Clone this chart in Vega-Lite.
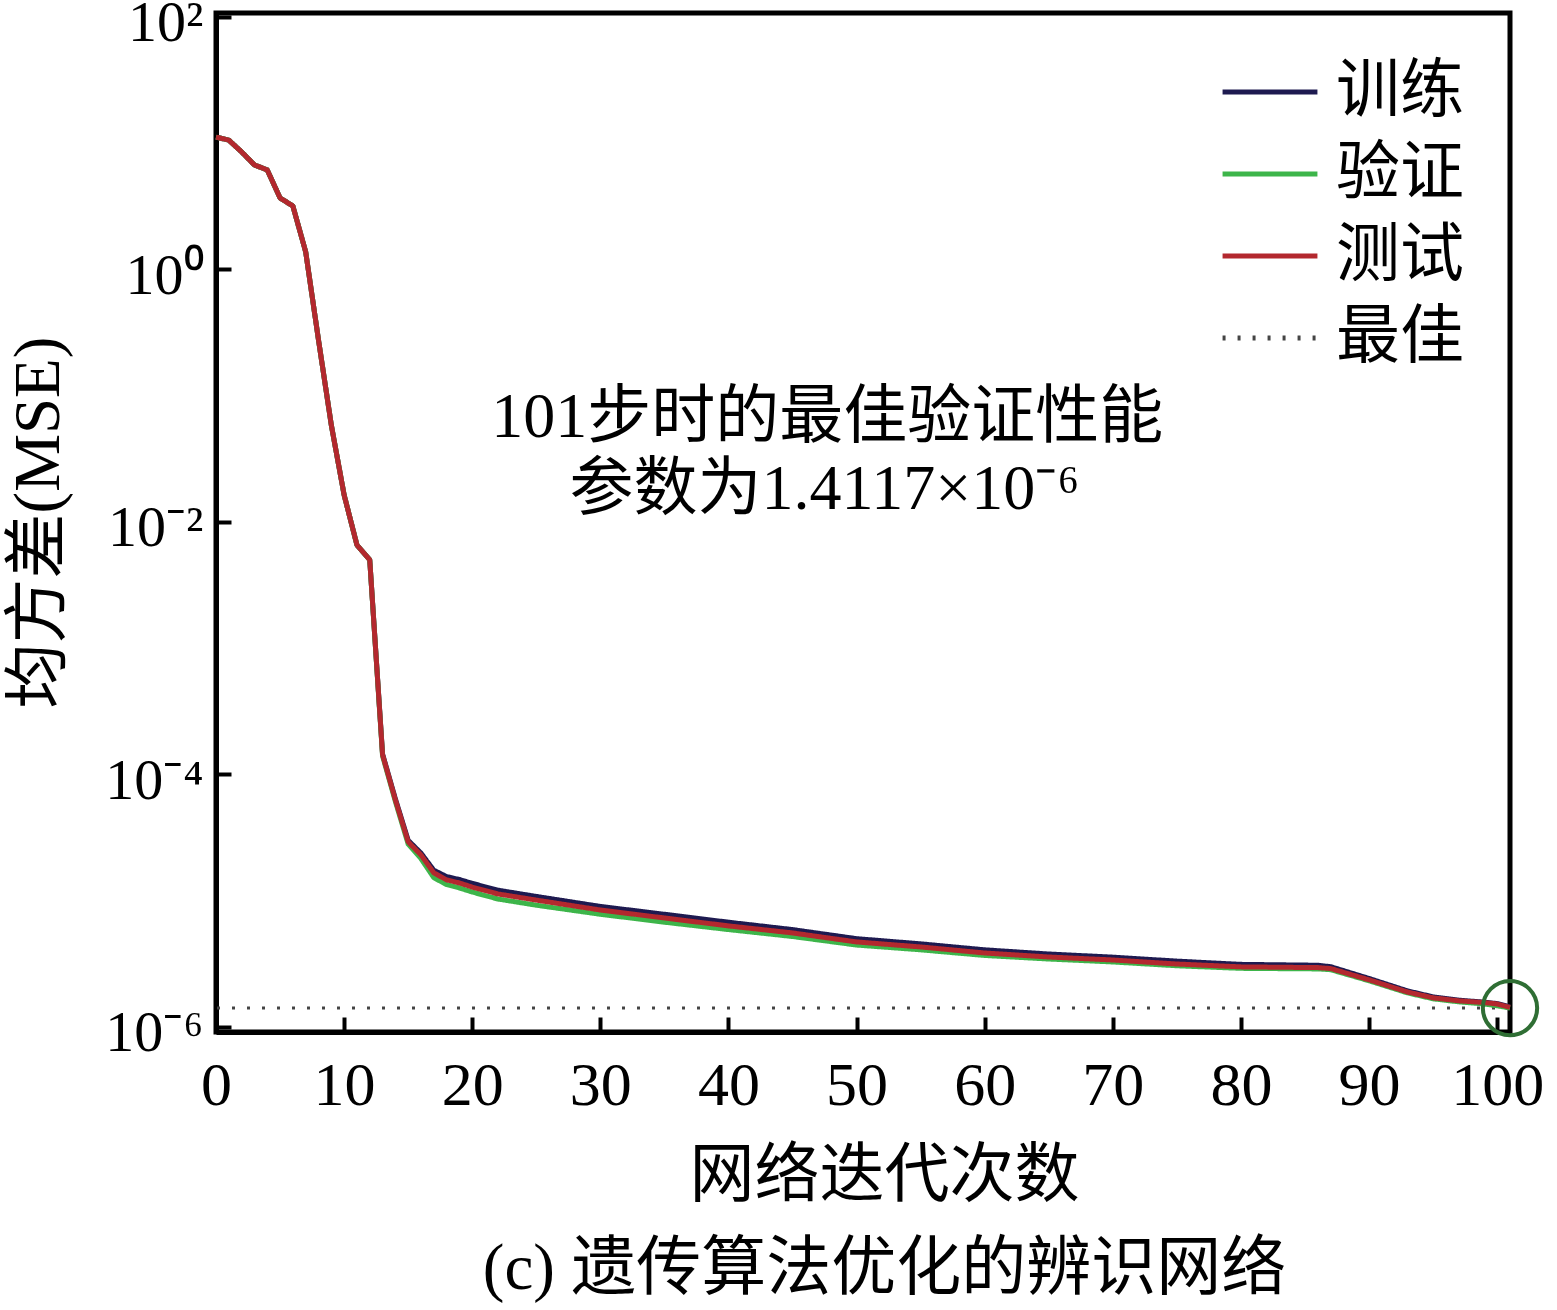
{
  "$schema": "https://vega.github.io/schema/vega-lite/v6.json",
  "width": 1294,
  "height": 1019,
  "autosize": "none",
  "padding": {"left": 216, "top": 13, "right": 47, "bottom": 278},
  "background": "white",
  "config": {
    "view": {"stroke": "black", "strokeWidth": 5},
    "font": "Liberation Serif, Noto Sans CJK SC",
    "axis": {
      "grid": false,
      "domainColor": "black",
      "domainWidth": 5,
      "tickColor": "black",
      "tickWidth": 4,
      "tickSize": -15,
      "labelColor": "black",
      "labelFont": "Liberation Serif",
      "labelFontSize": 62,
      "labelFlush": false,
      "titleColor": "black",
      "titleFont": "Liberation Serif, Noto Sans CJK SC",
      "titleFontSize": 65,
      "titleFontWeight": "normal"
    },
    "legend": {
      "orient": "none",
      "legendX": 1004,
      "legendY": 29,
      "symbolType": "stroke",
      "symbolSize": 9000,
      "symbolStrokeWidth": 5,
      "labelFont": "Liberation Serif, Noto Sans CJK SC",
      "labelFontSize": 64,
      "labelColor": "black",
      "labelOffset": 16,
      "rowPadding": -11,
      "title": null
    }
  },
  "datasets": {
    "perf": [
      {"x": 0, "y": 11.1, "s": "训练"}, {"x": 1, "y": 10.5, "s": "训练"}, {"x": 2, "y": 8.47, "s": "训练"},
      {"x": 3, "y": 6.68, "s": "训练"}, {"x": 4, "y": 6.1, "s": "训练"}, {"x": 5, "y": 3.66, "s": "训练"},
      {"x": 6, "y": 3.16, "s": "训练"}, {"x": 7, "y": 1.37, "s": "训练"}, {"x": 8, "y": 0.275, "s": "训练"},
      {"x": 9, "y": 0.0583, "s": "训练"}, {"x": 10, "y": 0.0163, "s": "训练"}, {"x": 11, "y": 0.00655, "s": "训练"},
      {"x": 12, "y": 0.00499, "s": "训练"}, {"x": 13, "y": 1.45e-4, "s": "训练"}, {"x": 14, "y": 6.4e-5, "s": "训练"},
      {"x": 15, "y": 3.0e-5, "s": "训练"}, {"x": 16, "y": 2.38e-5, "s": "训练"}, {"x": 17, "y": 1.74e-5, "s": "训练"},
      {"x": 18, "y": 1.55e-5, "s": "训练"}, {"x": 19, "y": 1.47e-5, "s": "训练"}, {"x": 20, "y": 1.37e-5, "s": "训练"},
      {"x": 22, "y": 1.21e-5, "s": "训练"}, {"x": 25, "y": 1.08e-5, "s": "训练"}, {"x": 30, "y": 9.0e-6, "s": "训练"},
      {"x": 35, "y": 7.8e-6, "s": "训练"}, {"x": 40, "y": 6.75e-6, "s": "训练"}, {"x": 45, "y": 5.9e-6, "s": "训练"},
      {"x": 50, "y": 5.0e-6, "s": "训练"}, {"x": 55, "y": 4.55e-6, "s": "训练"}, {"x": 60, "y": 4.08e-6, "s": "训练"},
      {"x": 65, "y": 3.78e-6, "s": "训练"}, {"x": 70, "y": 3.57e-6, "s": "训练"}, {"x": 75, "y": 3.32e-6, "s": "训练"},
      {"x": 80, "y": 3.13e-6, "s": "训练"}, {"x": 86, "y": 3.08e-6, "s": "训练"}, {"x": 87, "y": 3.0e-6, "s": "训练"},
      {"x": 90, "y": 2.42e-6, "s": "训练"}, {"x": 93, "y": 1.93e-6, "s": "训练"}, {"x": 95, "y": 1.73e-6, "s": "训练"},
      {"x": 97, "y": 1.63e-6, "s": "训练"}, {"x": 99, "y": 1.57e-6, "s": "训练"}, {"x": 100, "y": 1.53e-6, "s": "训练"},
      {"x": 101, "y": 1.44e-6, "s": "训练"},

      {"x": 0, "y": 11.1, "s": "验证"}, {"x": 1, "y": 10.5, "s": "验证"}, {"x": 2, "y": 8.47, "s": "验证"},
      {"x": 3, "y": 6.68, "s": "验证"}, {"x": 4, "y": 6.1, "s": "验证"}, {"x": 5, "y": 3.66, "s": "验证"},
      {"x": 6, "y": 3.16, "s": "验证"}, {"x": 7, "y": 1.37, "s": "验证"}, {"x": 8, "y": 0.275, "s": "验证"},
      {"x": 9, "y": 0.0583, "s": "验证"}, {"x": 10, "y": 0.0163, "s": "验证"}, {"x": 11, "y": 0.00655, "s": "验证"},
      {"x": 12, "y": 0.00499, "s": "验证"}, {"x": 13, "y": 1.40e-4, "s": "验证"}, {"x": 14, "y": 6.1e-5, "s": "验证"},
      {"x": 15, "y": 2.8e-5, "s": "验证"}, {"x": 16, "y": 2.15e-5, "s": "验证"}, {"x": 17, "y": 1.52e-5, "s": "验证"},
      {"x": 18, "y": 1.34e-5, "s": "验证"}, {"x": 19, "y": 1.26e-5, "s": "验证"}, {"x": 20, "y": 1.17e-5, "s": "验证"},
      {"x": 22, "y": 1.03e-5, "s": "验证"}, {"x": 25, "y": 9.2e-6, "s": "验证"}, {"x": 30, "y": 7.8e-6, "s": "验证"},
      {"x": 35, "y": 6.75e-6, "s": "验证"}, {"x": 40, "y": 5.9e-6, "s": "验证"}, {"x": 45, "y": 5.2e-6, "s": "验证"},
      {"x": 50, "y": 4.45e-6, "s": "验证"}, {"x": 55, "y": 4.08e-6, "s": "验证"}, {"x": 60, "y": 3.68e-6, "s": "验证"},
      {"x": 65, "y": 3.45e-6, "s": "验证"}, {"x": 70, "y": 3.27e-6, "s": "验证"}, {"x": 75, "y": 3.05e-6, "s": "验证"},
      {"x": 80, "y": 2.91e-6, "s": "验证"}, {"x": 86, "y": 2.88e-6, "s": "验证"}, {"x": 87, "y": 2.84e-6, "s": "验证"},
      {"x": 90, "y": 2.32e-6, "s": "验证"}, {"x": 93, "y": 1.86e-6, "s": "验证"}, {"x": 95, "y": 1.67e-6, "s": "验证"},
      {"x": 97, "y": 1.58e-6, "s": "验证"}, {"x": 99, "y": 1.52e-6, "s": "验证"}, {"x": 100, "y": 1.47e-6, "s": "验证"},
      {"x": 101, "y": 1.4117e-6, "s": "验证"},

      {"x": 0, "y": 11.1, "s": "测试"}, {"x": 1, "y": 10.5, "s": "测试"}, {"x": 2, "y": 8.47, "s": "测试"},
      {"x": 3, "y": 6.68, "s": "测试"}, {"x": 4, "y": 6.1, "s": "测试"}, {"x": 5, "y": 3.66, "s": "测试"},
      {"x": 6, "y": 3.16, "s": "测试"}, {"x": 7, "y": 1.37, "s": "测试"}, {"x": 8, "y": 0.275, "s": "测试"},
      {"x": 9, "y": 0.0583, "s": "测试"}, {"x": 10, "y": 0.0163, "s": "测试"}, {"x": 11, "y": 0.00655, "s": "测试"},
      {"x": 12, "y": 0.00499, "s": "测试"}, {"x": 13, "y": 1.43e-4, "s": "测试"}, {"x": 14, "y": 6.27e-5, "s": "测试"},
      {"x": 15, "y": 2.92e-5, "s": "测试"}, {"x": 16, "y": 2.30e-5, "s": "测试"}, {"x": 17, "y": 1.66e-5, "s": "测试"},
      {"x": 18, "y": 1.46e-5, "s": "测试"}, {"x": 19, "y": 1.38e-5, "s": "测试"}, {"x": 20, "y": 1.28e-5, "s": "测试"},
      {"x": 22, "y": 1.13e-5, "s": "测试"}, {"x": 25, "y": 1.01e-5, "s": "测试"}, {"x": 30, "y": 8.43e-6, "s": "测试"},
      {"x": 35, "y": 7.29e-6, "s": "测试"}, {"x": 40, "y": 6.31e-6, "s": "测试"}, {"x": 45, "y": 5.55e-6, "s": "测试"},
      {"x": 50, "y": 4.71e-6, "s": "测试"}, {"x": 55, "y": 4.30e-6, "s": "测试"}, {"x": 60, "y": 3.85e-6, "s": "测试"},
      {"x": 65, "y": 3.58e-6, "s": "测试"}, {"x": 70, "y": 3.39e-6, "s": "测试"}, {"x": 75, "y": 3.15e-6, "s": "测试"},
      {"x": 80, "y": 2.99e-6, "s": "测试"}, {"x": 86, "y": 2.95e-6, "s": "测试"}, {"x": 87, "y": 2.90e-6, "s": "测试"},
      {"x": 90, "y": 2.36e-6, "s": "测试"}, {"x": 93, "y": 1.89e-6, "s": "测试"}, {"x": 95, "y": 1.70e-6, "s": "测试"},
      {"x": 97, "y": 1.61e-6, "s": "测试"}, {"x": 99, "y": 1.56e-6, "s": "测试"}, {"x": 100, "y": 1.52e-6, "s": "测试"},
      {"x": 101, "y": 1.43e-6, "s": "测试"}
    ]
  },
  "encoding": {
    "x": {
      "type": "quantitative",
      "scale": {"domain": [0, 101], "nice": false, "zero": false},
      "axis": {
        "values": [0, 10, 20, 30, 40, 50, 60, 70, 80, 90, 100],
        "labelPadding": 38,
        "title": ["网络迭代次数", "(c) 遗传算法优化的辨识网络"],
        "titleX": 668,
        "titleY": 112,
        "titleAlign": "center",
        "titleBaseline": "top",
        "titleLineHeight": 93
      }
    },
    "y": {
      "type": "quantitative",
      "scale": {"type": "log", "domain": [9.12e-7, 106.6], "nice": false},
      "axis": {
        "values": [100, 1, 0.01, 0.0001, 0.000001],
        "labelPadding": 28,
        "labelFontSize": 58,
        "labelOffset": 7,
        "labelExpr": "datum.value > 10 ? '10²' : datum.value > 0.1 ? '10⁰' : datum.value > 0.001 ? '10⁻²' : datum.value > 0.00001 ? '10⁻⁴' : '10⁻⁶'",
        "title": "均方差(MSE)",
        "titleAngle": -90,
        "titleX": -178,
        "titleY": 509,
        "titleAlign": "center",
        "titleBaseline": "middle"
      }
    }
  },
  "layer": [
    {
      "data": {"values": [{"y": 1.4117e-6, "s": "最佳"}]},
      "mark": {"type": "rule", "strokeWidth": 3},
      "encoding": {
        "y": {"field": "y"},
        "color": {"field": "s", "type": "nominal"},
        "strokeDash": {"field": "s", "type": "nominal"}
      }
    },
    {
      "data": {"name": "perf"},
      "mark": {"type": "line", "strokeWidth": 5, "strokeJoin": "round"},
      "encoding": {
        "x": {"field": "x"},
        "y": {"field": "y"},
        "color": {
          "field": "s",
          "type": "nominal",
          "scale": {
            "domain": ["训练", "验证", "测试", "最佳"],
            "range": ["#1e1a50", "#3db54a", "#b3282e", "#444444"]
          }
        },
        "strokeDash": {
          "field": "s",
          "type": "nominal",
          "scale": {
            "domain": ["训练", "验证", "测试", "最佳"],
            "range": [[1, 0], [1, 0], [1, 0], [3, 12]]
          }
        },
        "order": {"field": "x"}
      }
    },
    {
      "data": {"values": [{"x": 101, "y": 1.4117e-6}]},
      "mark": {"type": "point", "shape": "circle", "filled": false, "size": 2950, "strokeWidth": 4, "opacity": 1, "color": "#2f6e34", "clip": false},
      "encoding": {
        "x": {"field": "x"},
        "y": {"field": "y"}
      }
    },
    {
      "data": {
        "values": [
          {"x": 47.7, "y": 0.0664, "t": "101步时的最佳验证性能"},
          {"x": 47.5, "y": 0.0179, "t": "参数为1.4117×10⁻⁶"}
        ]
      },
      "mark": {"type": "text", "fontSize": 64, "font": "Liberation Serif, Noto Sans CJK SC", "color": "black", "align": "center", "baseline": "middle"},
      "encoding": {
        "x": {"field": "x"},
        "y": {"field": "y"},
        "text": {"field": "t"}
      }
    }
  ]
}
